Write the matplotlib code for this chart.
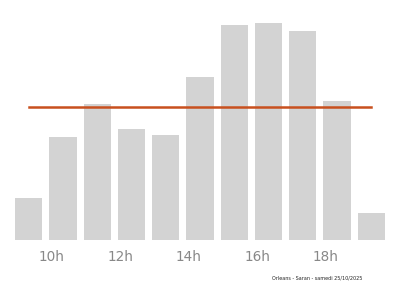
import numpy as np
import matplotlib
matplotlib.use("Agg")
import matplotlib.pyplot as plt

hours = [9, 10, 11, 12, 13, 14, 15, 16, 17, 18, 19]
affluence = [19.5, 47.4, 62.6, 51.1, 48.3, 75.0, 98.9, 100.0, 96.2, 64.1, 12.3]
moyenne = 61.3
tick_hours = [10, 12, 14, 16, 18]
tick_labels = ["10h", "12h", "14h", "16h", "18h"]
caption = "Orleans - Saran - samedi 25/10/2025"

fig = plt.figure(figsize=(4, 2.86), dpi=100)
ax = fig.add_axes([0.0375, 0.1608, 0.925, 0.760])

ax.bar(hours, affluence, width=0.8, color="#d3d3d3")
ax.plot([hours[0], hours[-1]], [moyenne, moyenne], color="#c8501e", lw=1.8)

ax.set_xlim(8.6, 19.4)
ax.set_ylim(0, 100)
# labels sit a little left of the bar centres
ax.set_xticks(np.array(tick_hours) - 0.33)
ax.set_xticklabels(tick_labels)
ax.tick_params(axis="x", length=0, pad=7, labelsize=9.8, labelcolor="#888888")
ax.set_yticks([])
for s in ax.spines.values():
    s.set_visible(False)

fig.text(0.905, 0.028, caption, ha="right", va="center", fontsize=3.5, color="#222222")

fig.savefig("out.png", dpi=100)
